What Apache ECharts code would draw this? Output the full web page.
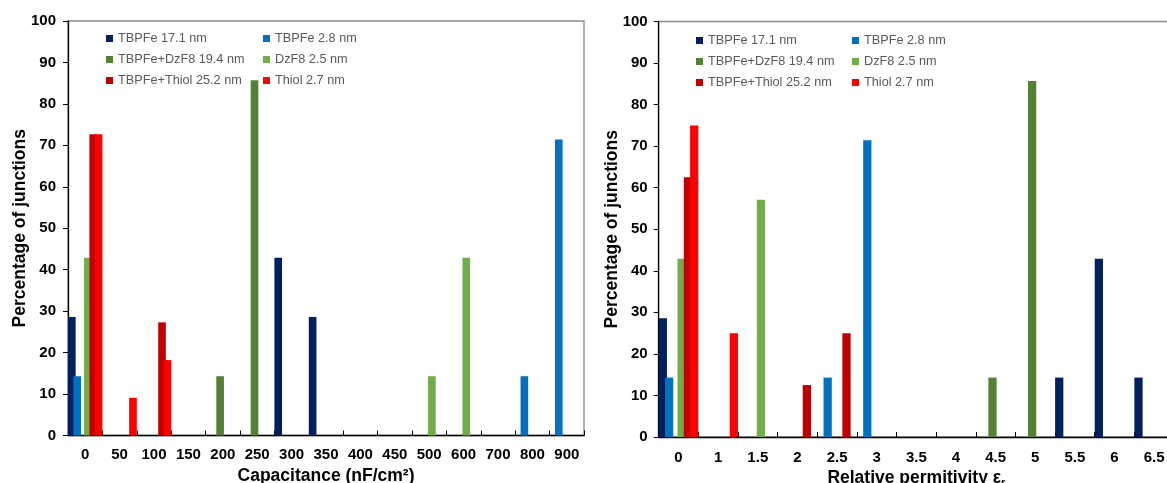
<!DOCTYPE html>
<html>
<head>
<meta charset="utf-8">
<script src="https://cdn.jsdelivr.net/npm/echarts@6/dist/echarts.min.js"></script>
<style>
html,body{margin:0;padding:0;background:#fff;overflow:hidden;width:1167px;height:483px;}
#c{width:1174px;height:483px;}
</style>
</head>
<body>
<div id="c"></div>
<script>
// ---- Data ----
const seriesNames = ['TBPFe 17.1 nm','TBPFe 2.8 nm','TBPFe+DzF8 19.4 nm','DzF8 2.5 nm','TBPFe+Thiol 25.2 nm','Thiol 2.7 nm'];
const seriesColors = ['#002060','#0070C0','#548235','#70AD47','#C00000','#FF0000'];

const capCategories = ['0','50','100','150','200','250','300','350','400','450','500','600','700','800','900'];
const capTBPFe171   = [28.6,0,0,0,0,0,42.9,28.6,0,0,0,0,0,0,0];
const capTBPFe28    = [14.3,0,0,0,0,0,0,0,0,0,0,0,0,14.3,71.4];
const capTBPFeDzF8  = [0,0,0,0,14.3,85.7,0,0,0,0,0,0,0,0,0];
const capDzF8       = [42.9,0,0,0,0,0,0,0,0,0,14.3,42.9,0,0,0];
const capTBPFeThiol = [72.7,0,27.3,0,0,0,0,0,0,0,0,0,0,0,0];
const capThiol      = [72.7,9.1,18.2,0,0,0,0,0,0,0,0,0,0,0,0];

const permCategories = ['0','1','1.5','2','2.5','3','3.5','4','4.5','5','5.5','6','6.5'];
const permTBPFe171   = [28.6,0,0,0,0,0,0,0,0,0,14.3,42.9,14.3];
const permTBPFe28    = [14.3,0,0,0,14.3,71.4,0,0,0,0,0,0,0];
const permTBPFeDzF8  = [0,0,0,0,0,0,0,0,14.3,85.7,0,0,0];
const permDzF8       = [42.9,0,57.1,0,0,0,0,0,0,0,0,0,0];
const permTBPFeThiol = [62.5,0,0,12.5,25,0,0,0,0,0,0,0,0];
const permThiol      = [75,25,0,0,0,0,0,0,0,0,0,0,0];

const yTicks = {min:0, max:100, interval:10};

// ---- Chart ----
const capData = [capTBPFe171,capTBPFe28,capTBPFeDzF8,capDzF8,capTBPFeThiol,capThiol];
const permData = [permTBPFe171,permTBPFe28,permTBPFeDzF8,permDzF8,permTBPFeThiol,permThiol];

const axisFont = {fontFamily:'Liberation Sans, Arial, sans-serif', fontWeight:'bold', fontSize:15, color:'#000'};
const titleFont = {fontFamily:'Liberation Sans, Arial, sans-serif', fontWeight:'bold', fontSize:17.5, color:'#000'};

function yAxis(gi, labelMargin, gap){
  return {
    type:'value', gridIndex:gi, min:yTicks.min, max:yTicks.max, interval:yTicks.interval,
    name:'Percentage of junctions', nameLocation:'middle', nameGap:gap, nameMoveOverlap:false,
    nameTextStyle:titleFont,
    axisLine:{show:true, lineStyle:{color:'#000', width:1.3}},
    axisTick:{show:true, inside:false, length:5, lineStyle:{color:'#000'}},
    axisLabel:Object.assign({margin:labelMargin}, axisFont),
    splitLine:{show:false}
  };
}
function xAxis(gi, cats, name, labelMargin){
  return {
    type:'category', gridIndex:gi, data:cats, boundaryGap:true,
    name:name, nameLocation:'middle', nameGap:32, nameMoveOverlap:false, nameTextStyle:titleFont,
    axisLine:{show:true, lineStyle:{color:'#000', width:1.3}},
    axisTick:{show:true, inside:true, length:5, lineStyle:{color:'#000'}},
    axisLabel:Object.assign({margin:labelMargin, interval:0}, axisFont),
    splitLine:{show:false}
  };
}

const series = [];
capData.forEach((d,i)=>{
  series.push({type:'bar', name:seriesNames[i], xAxisIndex:0, yAxisIndex:0, data:d,
    itemStyle:{color:seriesColors[i]}, barGap:'-30%', barCategoryGap:'0%', animation:false});
});
permData.forEach((d,i)=>{
  series.push({type:'bar', name:seriesNames[i], xAxisIndex:1, yAxisIndex:1, data:d,
    itemStyle:{color:seriesColors[i]}, barGap:'-24%', barCategoryGap:'0%', animation:false});
});

const legendText = {fontFamily:'Liberation Sans, Arial, sans-serif', fontSize:12.7, color:'#595959'};
function legend(left, top, names){
  return {show:true, orient:'vertical', left:left, top:top, data:names, itemWidth:7, itemHeight:7,
    itemGap:8, icon:'rect', textStyle:legendText, selectedMode:false, padding:0};
}

const gridCommon = {show:true, borderColor:'#8a8a8a', borderWidth:1.3, containLabel:false, outerBoundsMode:'none'};
const option = {
  animation:false,
  grid:[
    Object.assign({left:68, right:1174-584, top:21, bottom:483-435.5}, gridCommon),
    Object.assign({left:658.7, right:0, top:21.5, bottom:483-437}, gridCommon)
  ],
  legend:[
    legend(106, 32, [seriesNames[0],seriesNames[2],seriesNames[4]]),
    legend(263, 32, [seriesNames[1],seriesNames[3],seriesNames[5]]),
    legend(696, 34, [seriesNames[0],seriesNames[2],seriesNames[4]]),
    legend(852, 34, [seriesNames[1],seriesNames[3],seriesNames[5]])
  ],
  xAxis:[
    xAxis(0, capCategories, 'Capacitance (nF/cm²)', 12),
    Object.assign(xAxis(1, permCategories, '{a|Relative permitivity ε}{b|r}', 13), {
      nameTextStyle:Object.assign({}, titleFont, {rich:{
        a:Object.assign({}, titleFont),
        b:Object.assign({}, titleFont, {fontSize:11, verticalAlign:'bottom', padding:[8,0,0,0]})
      }})
    })
  ],
  yAxis:[yAxis(0, 12, 39), yAxis(1, 11, 38)],
  series:series
};

const chart = echarts.init(document.getElementById('c'), null, {renderer:'canvas'});
chart.setOption(option);
</script>
</body>
</html>
